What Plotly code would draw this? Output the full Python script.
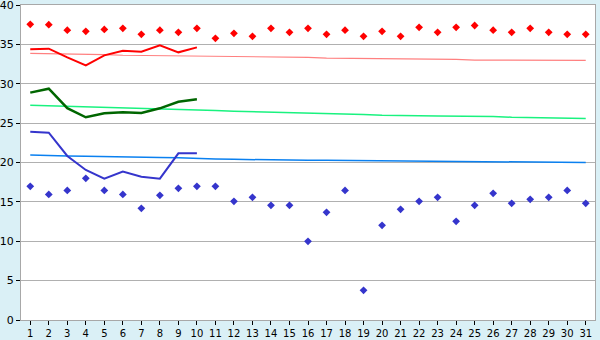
import plotly.graph_objects as go

days = list(range(1, 32))
tick_labels = [str(d) for d in days]

max_points = [37.55, 37.5, 36.8, 36.66, 36.9, 37.04, 36.28, 36.8, 36.53, 37.04,
              35.77, 36.4, 36.02, 37.04, 36.53, 37.04, 36.28, 36.8, 36.02, 36.66,
              36.02, 37.17, 36.53, 37.17, 37.4, 36.8, 36.53, 37.04, 36.53, 36.28, 36.28]
min_points = [16.97, 15.95, 16.46, 17.99, 16.46, 15.95, 14.18, 15.83, 16.72, 16.97,
              16.97, 15.07, 15.58, 14.56, 14.56, 9.99, 13.67, 16.46, 3.77, 12.02,
              14.05, 15.07, 15.58, 12.53, 14.56, 16.08, 14.82, 15.32, 15.58, 16.46, 14.82]

days_obs = list(range(1, 11))
red_line = [34.37, 34.45, 33.35, 32.34, 33.6, 34.2, 34.07, 34.88, 33.99, 34.62]
green_line = [28.87, 29.37, 26.9, 25.74, 26.25, 26.37, 26.3, 26.88, 27.72, 28.02]
blue_line = [23.92, 23.79, 20.83, 19.05, 17.95, 18.84, 18.2, 17.95, 21.16, 21.16]

salmon_norm = [33.86, 33.84, 33.76, 33.73, 33.7, 33.62, 33.6, 33.52, 33.49, 33.48,
               33.47, 33.46, 33.45, 33.38, 33.36, 33.35, 33.26, 33.24, 33.23, 33.22,
               33.12, 33.1, 33.1, 33.09, 33.0, 32.98, 32.98, 32.97, 32.97, 32.97, 32.97]
green_norm = [27.26, 27.2, 27.1, 27.0, 26.95, 26.9, 26.85, 26.8, 26.75, 26.7,
              26.6, 26.5, 26.45, 26.4, 26.35, 26.3, 26.25, 26.15, 26.1, 26.0,
              26.0, 25.95, 25.9, 25.9, 25.85, 25.85, 25.75, 25.7, 25.65, 25.62, 25.6]
blue_norm = [20.95, 20.85, 20.83, 20.8, 20.78, 20.72, 20.7, 20.65, 20.6, 20.57,
             20.45, 20.4, 20.35, 20.3, 20.28, 20.28, 20.27, 20.25, 20.22, 20.2,
             20.15, 20.15, 20.14, 20.12, 20.05, 20.03, 20.02, 20.02, 20.0, 20.0, 20.0]

fig = go.Figure()
fig.add_trace(go.Scatter(x=days, y=salmon_norm, mode="lines",
                         line=dict(color="#FF8080", width=1.2)))
fig.add_trace(go.Scatter(x=days, y=green_norm, mode="lines",
                         line=dict(color="#19F27F", width=1.5)))
fig.add_trace(go.Scatter(x=days, y=blue_norm, mode="lines",
                         line=dict(color="#0A80F0", width=1.5)))
fig.add_trace(go.Scatter(x=days_obs, y=red_line, mode="lines",
                         line=dict(color="#FF0000", width=2)))
fig.add_trace(go.Scatter(x=days_obs, y=green_line, mode="lines",
                         line=dict(color="#006600", width=2.5)))
fig.add_trace(go.Scatter(x=days_obs, y=blue_line, mode="lines",
                         line=dict(color="#3535CC", width=2)))
fig.add_trace(go.Scatter(x=days, y=max_points, mode="markers",
                         marker=dict(symbol="diamond", size=6, color="#FF0000")))
fig.add_trace(go.Scatter(x=days, y=min_points, mode="markers",
                         marker=dict(symbol="diamond", size=6, color="#3535CC")))

fig.update_layout(
    width=600, height=340,
    margin=dict(l=21, r=5, t=5, b=20),
    paper_bgcolor="#DAF0F6",
    plot_bgcolor="#FFFFFF",
    showlegend=False,
    font=dict(family="DejaVu Sans", size=11, color="#000000"),
)
fig.update_xaxes(
    range=[0.5, 31.5], tickmode="array", tickvals=days, ticktext=tick_labels,
    ticks="outside", ticklen=4, tickcolor="#000000", showgrid=False,
    showline=True, linecolor="#A8A8A8", linewidth=1, mirror=True,
    zeroline=False, tickfont=dict(size=10), automargin=False,
    ticklabeloverflow="allow", ticklabelstandoff=0,
)
fig.update_yaxes(
    range=[0, 40], tickmode="array", tickvals=[0, 5, 10, 15, 20, 25, 30, 35, 40],
    ticks="outside", ticklen=4, tickcolor="#000000",
    showgrid=True, gridcolor="#B0B0B0", gridwidth=1,
    showline=True, linecolor="#A8A8A8", linewidth=1, mirror=True,
    zeroline=False, tickfont=dict(size=11), automargin=False,
    ticklabeloverflow="allow", ticklabelstandoff=0,
)

fig.write_html("out.html")
